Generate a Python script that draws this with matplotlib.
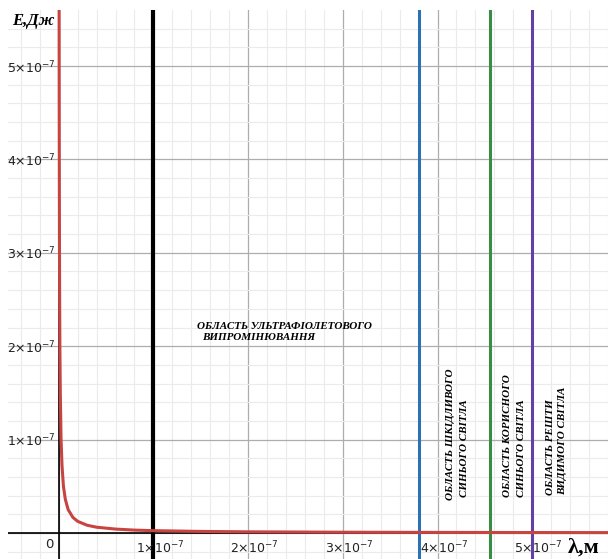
import matplotlib
matplotlib.use("Agg")
import matplotlib.pyplot as plt
from matplotlib.ticker import MultipleLocator

plt.rcParams["mathtext.default"] = "regular"

# all values in units of 1e-7 (wavelength in m, energy in J)
lam = [0.0045, 0.005, 0.006, 0.008, 0.01, 0.0125, 0.017, 0.025, 0.035, 0.05,
       0.07, 0.1, 0.15, 0.2, 0.3, 0.4, 0.6, 0.8, 1.0, 1.5, 2.0, 3.0, 4.0, 5.0, 5.8]
energy = [5.6, 5.0, 4.2, 3.1, 2.5, 2.0, 1.5, 1.0, 0.72, 0.5,
          0.36, 0.25, 0.167, 0.125, 0.083, 0.062, 0.042, 0.031, 0.025, 0.017,
          0.0125, 0.0083, 0.0062, 0.005, 0.0043]

border_x = [1.0, 3.8, 4.55, 5.0]
border_colors = ["#000000", "#2d70b3", "#388c46", "#6042a6"]
border_widths = [3.0, 2.2, 2.2, 2.2]

x_ticks = [1, 2, 3, 4, 5]
y_ticks = [1, 2, 3, 4, 5]

uv_text = ["ОБЛАСТЬ УЛЬТРАФІОЛЕТОВОГО", "ВИПРОМІНЮВАННЯ"]
vis_texts = [["ОБЛАСТЬ ШКІДЛИВОГО", "СИНЬОГО СВІТЛА"],
             ["ОБЛАСТЬ КОРИСНОГО", "СИНЬОГО СВІТЛА"],
             ["ОБЛАСТЬ РЕШТИ", "ВИДИМОГО СВІТЛА"]]

# pixel -> data helpers (figure is 608x559 px)
X0, SX = 58.7, 94.7
Y0, SY = 533.0, 93.4


def dx(px):
    return (px - X0) / SX


def dy(py):
    return (Y0 - py) / SY


fig = plt.figure(figsize=(6.08, 5.59), dpi=100)
ax = fig.add_axes([8 / 608, 0, 600 / 608, 549 / 559])
ax.set_xlim(dx(8), dx(608))
ax.set_ylim(dy(559), dy(10))

ax.xaxis.set_major_locator(MultipleLocator(1))
ax.xaxis.set_minor_locator(MultipleLocator(0.2))
ax.yaxis.set_major_locator(MultipleLocator(1))
ax.yaxis.set_minor_locator(MultipleLocator(0.2))
ax.grid(which="minor", color="#ebebeb", linewidth=0.8, zorder=0)
ax.grid(which="major", color="#adadad", linewidth=0.9, zorder=0)
ax.tick_params(which="both", length=0, labelbottom=False, labelleft=False)
for s in ax.spines.values():
    s.set_visible(False)
ax.set_axisbelow(True)

ax.axhline(0, color="black", linewidth=1.2, zorder=1)
ax.axvline(0, color="black", linewidth=1.2, zorder=1)

for xv, c, w in zip(border_x, border_colors, border_widths):
    ax.axvline(xv, color=c, linewidth=w, zorder=2)

ax.plot(lam, energy, color="#c74440", linewidth=2.2, zorder=3,
        solid_capstyle="butt")

lab_col = "#222222"
for t in x_ticks:
    ax.text(t + 0.07, dy(553), r"$%d{\times}10^{-7}$" % t, ha="center",
            va="baseline", fontsize=9, color=lab_col)
for t in y_ticks:
    ax.text(dx(56), t - 7 / SY, r"$%d{\times}10^{-7}$" % t, ha="right",
            va="baseline", fontsize=9, color=lab_col)
ax.text(dx(49), dy(548), "0", ha="center", va="baseline", fontsize=9.5,
        color=lab_col)

serif = "Liberation Serif"
ax.text(dx(12), dy(25), "Е,Дж", fontsize=12, fontweight="bold",
        fontstyle="italic", family=serif, ha="left", va="baseline")
ax.text(dx(568), dy(553), "λ,м", fontsize=16, fontweight="bold",
        family=serif, ha="left", va="baseline")

ax.text(dx(197), dy(329), uv_text[0], fontsize=8, fontweight="bold",
        fontstyle="italic", family=serif, ha="left", va="baseline")
ax.text(dx(202), dy(340), uv_text[1], fontsize=8, fontweight="bold",
        fontstyle="italic", family=serif, ha="left", va="baseline")

# rotated labels: (baseline x in px, start y in px) for each line
vis_pos = [[(453, 500), (467, 497)],
           [(510, 497), (524, 497)],
           [(553, 495), (565, 495)]]
for lines, pos in zip(vis_texts, vis_pos):
    for line, (px, py) in zip(lines, pos):
        ax.text(dx(px), dy(py), line, rotation=90, rotation_mode="anchor",
                ha="left", va="baseline", fontsize=8, fontweight="bold",
                fontstyle="italic", family=serif)

fig.savefig("out.png", dpi=100, facecolor="white")
